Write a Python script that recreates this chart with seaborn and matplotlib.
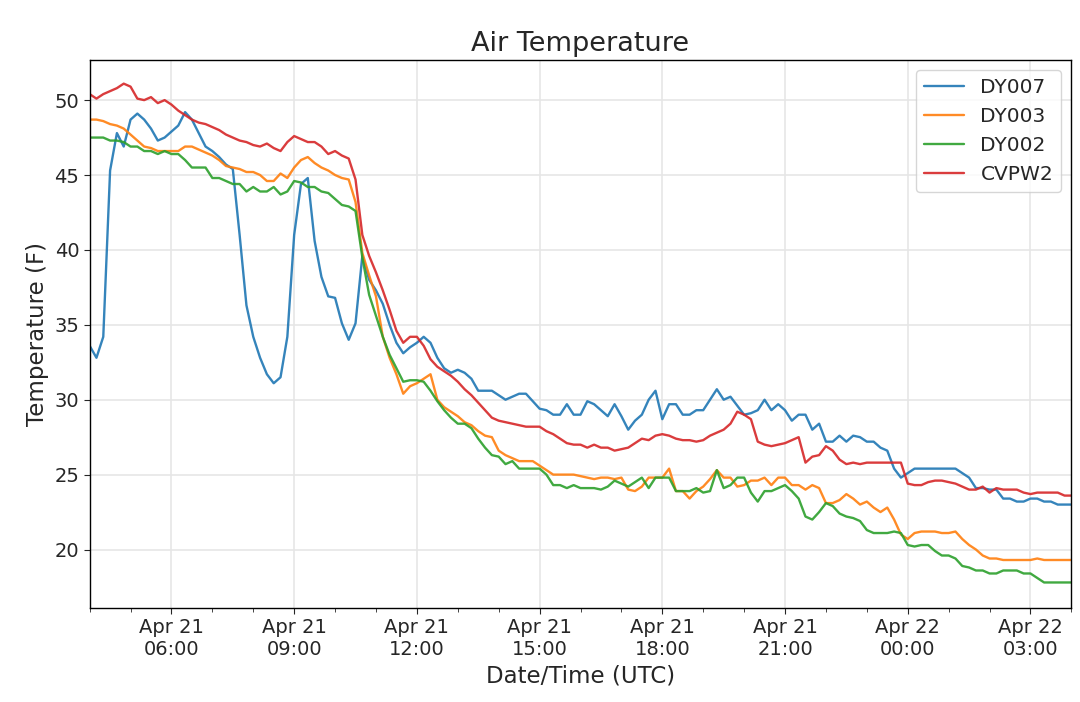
import numpy as np
import pandas as pd
import matplotlib
matplotlib.use("Agg")
import matplotlib.pyplot as plt
import matplotlib.dates as mdates
import seaborn as sns

# 10-minute readings, Apr 21 04:00 UTC to Apr 22 04:00 UTC
times = pd.date_range("2021-04-21 04:00", "2021-04-22 04:00", freq="10min")

dy007 = [
    33.6, 32.8, 34.2, 45.3, 47.8, 46.9, 48.7, 49.1, 48.7, 48.1,
    47.3, 47.5, 47.9, 48.3, 49.2, 48.7, 47.8, 46.9, 46.6, 46.2,
    45.7, 45.4, 41.0, 36.3, 34.2, 32.8, 31.7, 31.1, 31.5, 34.2,
    41.0, 44.4, 44.8, 40.6, 38.2, 36.9, 36.8, 35.1, 34.0, 35.1,
    39.6, 38.0, 37.3, 36.4, 35.0, 33.8, 33.1, 33.5, 33.8, 34.2,
    33.8, 32.8, 32.1, 31.8, 32.0, 31.8, 31.4, 30.6, 30.6, 30.6,
    30.3, 30.0, 30.2, 30.4, 30.4, 29.9, 29.4, 29.3, 29.0, 29.0,
    29.7, 29.0, 29.0, 29.9, 29.7, 29.3, 28.9, 29.7, 28.9, 28.0,
    28.6, 29.0, 30.0, 30.6, 28.7, 29.7, 29.7, 29.0, 29.0, 29.3,
    29.3, 30.0, 30.7, 30.0, 30.2, 29.6, 29.0, 29.1, 29.3, 30.0,
    29.3, 29.7, 29.3, 28.6, 29.0, 29.0, 28.0, 28.4, 27.2, 27.2,
    27.6, 27.2, 27.6, 27.5, 27.2, 27.2, 26.8, 26.6, 25.4, 24.8,
    25.1, 25.4, 25.4, 25.4, 25.4, 25.4, 25.4, 25.4, 25.1, 24.8,
    24.1, 24.1, 24.0, 24.0, 23.4, 23.4, 23.2, 23.2, 23.4, 23.4,
    23.2, 23.2, 23.0, 23.0, 23.0,
]

dy003 = [
    48.7, 48.7, 48.6, 48.4, 48.3, 48.1, 47.7, 47.3, 46.9, 46.8,
    46.6, 46.6, 46.6, 46.6, 46.9, 46.9, 46.7, 46.5, 46.3, 46.0,
    45.6, 45.5, 45.4, 45.2, 45.2, 45.0, 44.6, 44.6, 45.1, 44.8,
    45.5, 46.0, 46.2, 45.8, 45.5, 45.3, 45.0, 44.8, 44.7, 43.2,
    39.8, 38.3, 36.9, 34.2, 32.8, 31.7, 30.4, 30.9, 31.1, 31.4,
    31.7, 30.0, 29.5, 29.2, 28.9, 28.5, 28.3, 27.9, 27.6, 27.5,
    26.6, 26.3, 26.1, 25.9, 25.9, 25.9, 25.6, 25.3, 25.0, 25.0,
    25.0, 25.0, 24.9, 24.8, 24.7, 24.8, 24.8, 24.7, 24.8, 24.0,
    23.9, 24.2, 24.8, 24.8, 24.8, 25.4, 23.9, 23.9, 23.4, 23.9,
    24.2, 24.7, 25.3, 24.8, 24.8, 24.2, 24.3, 24.6, 24.6, 24.8,
    24.3, 24.8, 24.8, 24.3, 24.3, 24.0, 24.3, 24.1, 23.1, 23.1,
    23.3, 23.7, 23.4, 23.0, 23.2, 22.8, 22.5, 22.8, 22.0, 21.0,
    20.7, 21.1, 21.2, 21.2, 21.2, 21.1, 21.1, 21.2, 20.7, 20.3,
    20.0, 19.6, 19.4, 19.4, 19.3, 19.3, 19.3, 19.3, 19.3, 19.4,
    19.3, 19.3, 19.3, 19.3, 19.3,
]

dy002 = [
    47.5, 47.5, 47.5, 47.3, 47.3, 47.2, 46.9, 46.9, 46.6, 46.6,
    46.4, 46.6, 46.4, 46.4, 46.0, 45.5, 45.5, 45.5, 44.8, 44.8,
    44.6, 44.4, 44.4, 43.9, 44.2, 43.9, 43.9, 44.2, 43.7, 43.9,
    44.6, 44.5, 44.2, 44.2, 43.9, 43.8, 43.4, 43.0, 42.9, 42.6,
    39.5, 37.0, 35.6, 34.2, 33.0, 32.1, 31.2, 31.3, 31.3, 31.2,
    30.6, 29.9, 29.3, 28.8, 28.4, 28.4, 28.1, 27.4, 26.8, 26.3,
    26.2, 25.7, 25.9, 25.4, 25.4, 25.4, 25.4, 25.0, 24.3, 24.3,
    24.1, 24.3, 24.1, 24.1, 24.1, 24.0, 24.2, 24.6, 24.4, 24.2,
    24.5, 24.8, 24.1, 24.8, 24.8, 24.8, 23.9, 23.9, 23.9, 24.1,
    23.8, 23.9, 25.3, 24.1, 24.3, 24.8, 24.8, 23.8, 23.2, 23.9,
    23.9, 24.1, 24.3, 23.9, 23.4, 22.2, 22.0, 22.5, 23.1, 22.9,
    22.4, 22.2, 22.1, 21.9, 21.3, 21.1, 21.1, 21.1, 21.2, 21.1,
    20.3, 20.2, 20.3, 20.3, 19.9, 19.6, 19.6, 19.4, 18.9, 18.8,
    18.6, 18.6, 18.4, 18.4, 18.6, 18.6, 18.6, 18.4, 18.4, 18.1,
    17.8, 17.8, 17.8, 17.8, 17.8,
]

cvpw2 = [
    50.4, 50.1, 50.4, 50.6, 50.8, 51.1, 50.9, 50.1, 50.0, 50.2,
    49.8, 50.0, 49.7, 49.3, 49.0, 48.7, 48.5, 48.4, 48.2, 48.0,
    47.7, 47.5, 47.3, 47.2, 47.0, 46.9, 47.1, 46.8, 46.6, 47.2,
    47.6, 47.4, 47.2, 47.2, 46.9, 46.4, 46.6, 46.3, 46.1, 44.7,
    41.0, 39.6, 38.5, 37.3, 36.0, 34.6, 33.8, 34.2, 34.2, 33.6,
    32.7, 32.2, 31.9, 31.6, 31.2, 30.7, 30.3, 29.8, 29.3, 28.8,
    28.6, 28.5, 28.4, 28.3, 28.2, 28.2, 28.2, 27.9, 27.7, 27.4,
    27.1, 27.0, 27.0, 26.8, 27.0, 26.8, 26.8, 26.6, 26.7, 26.8,
    27.1, 27.4, 27.3, 27.6, 27.7, 27.6, 27.4, 27.3, 27.3, 27.2,
    27.3, 27.6, 27.8, 28.0, 28.4, 29.2, 29.0, 28.7, 27.2, 27.0,
    26.9, 27.0, 27.1, 27.3, 27.5, 25.8, 26.2, 26.3, 26.9, 26.6,
    26.0, 25.7, 25.8, 25.7, 25.8, 25.8, 25.8, 25.8, 25.8, 25.8,
    24.4, 24.3, 24.3, 24.5, 24.6, 24.6, 24.5, 24.4, 24.2, 24.0,
    24.0, 24.2, 23.8, 24.1, 24.0, 24.0, 24.0, 23.8, 23.7, 23.8,
    23.8, 23.8, 23.8, 23.6, 23.6,
]

stations = ["DY007", "DY003", "DY002", "CVPW2"]

df = pd.DataFrame({"time": times, "DY007": dy007, "DY003": dy003,
                   "DY002": dy002, "CVPW2": cvpw2})
long_df = df.melt(id_vars="time", var_name="station", value_name="temp")

sns.set_style("ticks")
plt.rcParams["font.family"] = ["DejaVu Sans"]

fig, ax = plt.subplots(figsize=(10.8, 7.02), dpi=100)
fig.subplots_adjust(left=0.083, right=0.992, top=0.915, bottom=0.134)

sns.lineplot(data=long_df, x="time", y="temp", hue="station",
             hue_order=stations, palette="tab10", linewidth=1.7,
             alpha=0.9, ax=ax)

ax.set_xlim(times[0], times[-1])
ax.set_ylim(16.1, 52.7)
ax.set_yticks([20, 25, 30, 35, 40, 45, 50])

ax.xaxis.set_major_locator(mdates.HourLocator(byhour=range(0, 24, 3)))
ax.xaxis.set_minor_locator(mdates.HourLocator())
ax.xaxis.set_major_formatter(mdates.DateFormatter("%b %d\n%H:%M"))

ax.grid(True, which="major", color="#e6e6e6", linewidth=1.2)
for side in ["top", "right", "left", "bottom"]:
    ax.spines[side].set_visible(True)
    ax.spines[side].set_color("black")
    ax.spines[side].set_linewidth(1.0)

ax.tick_params(axis="both", which="major", labelsize=14, length=4)
ax.tick_params(axis="x", which="minor", length=3)

ax.set_title("Air Temperature", fontsize=19.5)
ax.set_xlabel("Date/Time (UTC)", fontsize=16.5)
ax.set_ylabel("Temperature (F)", fontsize=16.5)

ax.legend(loc="upper right", fontsize=14.5, frameon=True)

fig.savefig("out.png", dpi=100)
